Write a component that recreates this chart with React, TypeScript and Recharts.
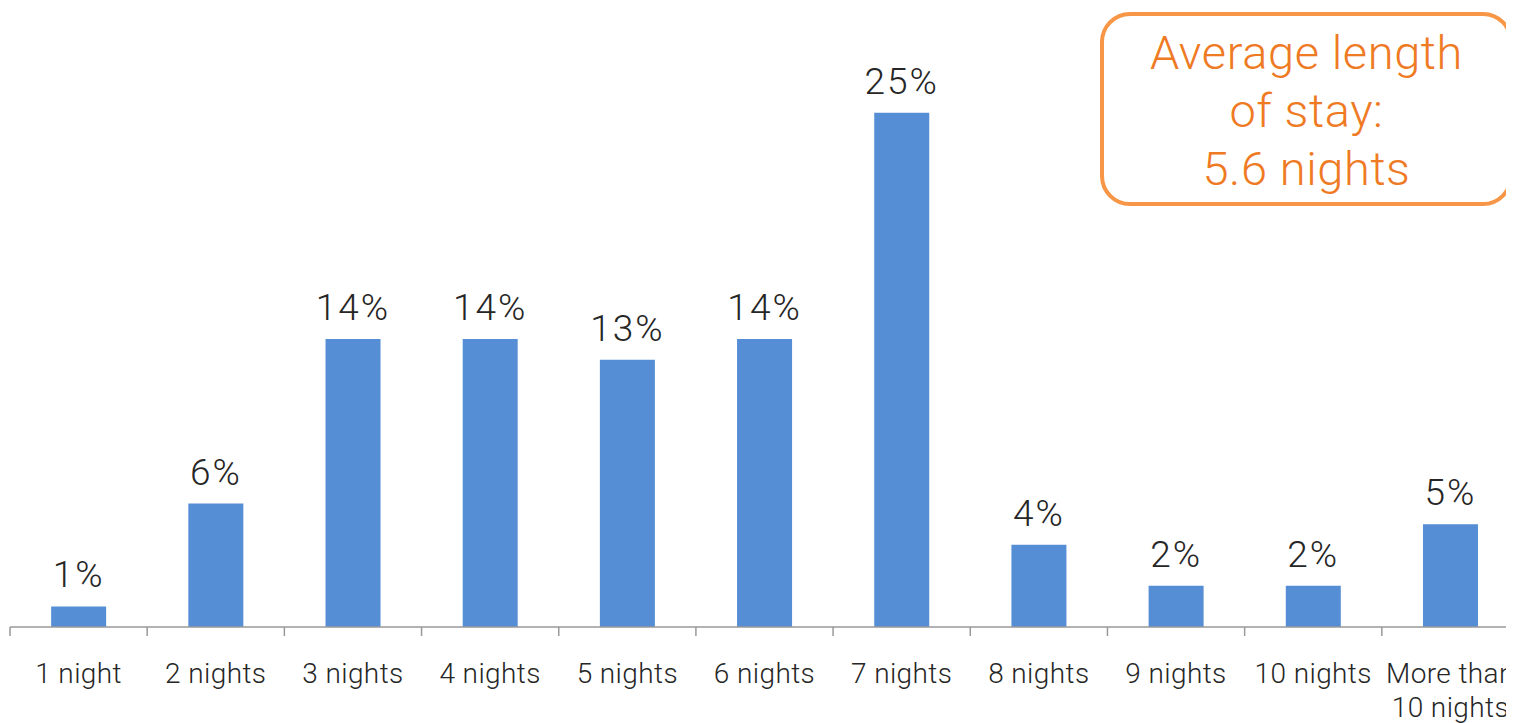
import React from "react";
import { BarChart, Bar, XAxis, YAxis, LabelList } from "recharts";

const categories = [
  "1 night",
  "2 nights",
  "3 nights",
  "4 nights",
  "5 nights",
  "6 nights",
  "7 nights",
  "8 nights",
  "9 nights",
  "10 nights",
  "More than 10 nights",
];
const shares = [1, 6, 14, 14, 13, 14, 25, 4, 2, 2, 5];
const boxLines = ["Average length", "of stay:", "5.6 nights"];

const data = categories.map((name, i) => ({ name, value: shares[i] }));

const FONT = "Roboto, 'Open Sans', sans-serif";
const CHART_W = 1511;
const CHART_H = 740;
const MARGIN = { top: 2, right: 0, left: 2, bottom: 0 };
const BAND = (CHART_W - MARGIN.left - MARGIN.right) / categories.length;

const wrapLabel = (s: string): string[] => {
  const words = s.split(" ");
  if (words.length <= 2) return [s];
  return [words.slice(0, 2).join(" "), words.slice(2).join(" ")];
};

const Tick = (props: any) => {
  const { x, y, payload, index } = props;
  const last = index === categories.length - 1;
  const lines = wrapLabel(String(payload.value));
  return (
    <g>
      <line x1={x - BAND / 2} x2={x - BAND / 2} y1={y} y2={y + 9} stroke="#999" strokeWidth={1.5} />
      {last && (
        <line x1={x + BAND / 2} x2={x + BAND / 2} y1={y} y2={y + 9} stroke="#999" strokeWidth={1.5} />
      )}
      <text
        x={x}
        y={y + 56}
        textAnchor="middle"
        fill="#262626"
        style={{ fontFamily: FONT, fontSize: 28, fontWeight: 300, letterSpacing: 0.4 }}
      >
        {lines.map((l, i) => (
          <tspan key={i} x={x} dy={i === 0 ? 0 : 34}>
            {l}
          </tspan>
        ))}
      </text>
    </g>
  );
};

export default function App() {
  return (
    <div style={{ position: "relative", width: 1530, height: 715, overflow: "hidden", fontFamily: FONT }}>
      <style>{"html,body{overflow:hidden;}"}</style>
      <BarChart width={CHART_W} height={CHART_H} data={data} margin={MARGIN} barCategoryGap="30%">
        <XAxis
          dataKey="name"
          interval={0}
          height={121}
          tickSize={0}
          tickMargin={0}
          axisLine={{ stroke: "#999", strokeWidth: 1.5 }}
          tickLine={false}
          tick={<Tick />}
        />
        <YAxis hide domain={[0, 30]} />
        <Bar dataKey="value" fill="#558ED5" isAnimationActive={false}>
          <LabelList
            dataKey="value"
            position="top"
            offset={19}
            formatter={(v: any) => `${v}%`}
            fill="#262626"
            style={{ fontFamily: FONT, fontSize: 37, fontWeight: 300, letterSpacing: 2 }}
          />
        </Bar>
      </BarChart>
      <div
        style={{
          position: "absolute",
          left: 1092,
          top: 4,
          width: 413,
          height: 194,
          boxSizing: "border-box",
          border: "4px solid #F79646",
          borderRadius: 30,
          background: "#fff",
          color: "#EF7A24",
          fontSize: 47,
          fontWeight: 300,
          letterSpacing: 0.6,
          lineHeight: "58px",
          textAlign: "center",
          paddingTop: 8,
        }}
      >
        {boxLines.map((l) => (
          <div key={l}>{l}</div>
        ))}
      </div>
    </div>
  );
}
